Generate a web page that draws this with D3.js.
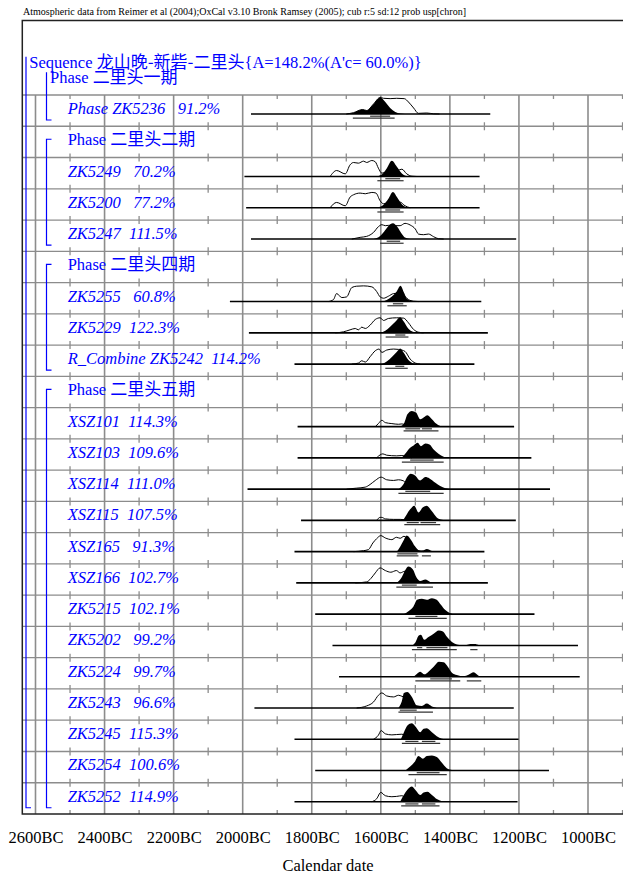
<!DOCTYPE html>
<html>
<head>
<meta charset="utf-8">
<script src="https://cdnjs.cloudflare.com/ajax/libs/d3/7.8.5/d3.min.js"></script>
<style>
  body { margin: 0; background: #fff; }
  svg { display: block; }
  text { font-family: 'Liberation Serif', 'Times New Roman', serif; }
</style>
</head>
<body>
<script>
const HEADER = 'Atmospheric data from Reimer et al (2004);OxCal v3.10 Bronk Ramsey (2005); cub r:5 sd:12 prob usp[chron]'
const SEQUENCE_LABEL = 'Sequence 龙山晚-新砦-二里头{A=148.2%(A\'c= 60.0%)}'
const FIRST_PHASE_LABEL = 'Phase 二里头一期'
const TICK_YEARS = [2600, 2400, 2200, 2000, 1800, 1600, 1400, 1200, 1000, 800]
const MINOR_YEARS = [2500, 2300, 2100, 1900, 1700, 1500, 1300, 1100, 900]
const X_LABEL = 'Calendar date'

// one entry per grid row (years BC); phase rows have no distribution
const names = ['Phase ZK5236', 'Phase 二里头二期', 'ZK5249', 'ZK5200', 'ZK5247', 'Phase 二里头四期',
  'ZK5255', 'ZK5229', 'R_Combine ZK5242', 'Phase 二里头五期', 'XSZ101', 'XSZ103', 'XSZ114',
  'XSZ115', 'XSZ165', 'XSZ166', 'ZK5215', 'ZK5202', 'ZK5224', 'ZK5243', 'ZK5245', 'ZK5254', 'ZK5252']
const agreement = [91.2, null, 70.2, 77.2, 111.5, null, 60.8, 122.3, 114.2, null, 114.3, 109.6, 111.0,
  107.5, 91.3, 102.7, 102.1, 99.2, 99.7, 96.6, 115.3, 100.6, 114.9]

// [first row, last row] of each phase bracket
const phaseGroups = [[1, 4], [5, 8], [9, 22]]

const spans = [
  [1976, 1283], null, [1995, 1314], [1990, 1314], [1976, 1208], null,
  [2037, 1309], [1982, 1290], [1850, 1329], null, [1841, 1214], [1841, 1164], [1986, 1110],
  [1831, 1209], [1850, 1300], [1845, 1290], [1790, 1155], [1740, 1029], [1721, 1024],
  [1966, 1215], [1850, 1201], [1790, 1113], [1850, 1204]
]

// unmodelled (outline) distributions: [year BC, relative probability]
const priors = [
  [[1700,0],[1679,8],[1653,27],[1641,21],[1621,60],[1602,99],[1592,94],[1573,92],[1554,94],[1532,92],[1520,72],[1505,36],[1491,4],[1467,6],[1447,1],[1430,0]],
  null,
  [[1747,0],[1728,36],[1703,16],[1689,70],[1679,84],[1665,80],[1650,92],[1641,84],[1626,96],[1616,88],[1607,50],[1597,20],[1583,30],[1568,36],[1554,36],[1539,44],[1525,16],[1510,2],[1495,0]],
  [[1747,0],[1728,32],[1703,12],[1689,64],[1679,78],[1660,88],[1645,84],[1626,92],[1614,88],[1602,42],[1592,24],[1578,30],[1560,34],[1544,34],[1530,12],[1515,0]],
  [[1684,0],[1660,10],[1641,16],[1621,40],[1607,74],[1597,86],[1587,80],[1578,82],[1565,80],[1544,80],[1530,94],[1515,84],[1500,60],[1491,30],[1476,26],[1462,30],[1447,14],[1433,2],[1418,0]],
  null,
  [[1752,0],[1737,12],[1728,48],[1713,24],[1699,28],[1684,84],[1670,92],[1650,94],[1626,88],[1612,60],[1602,28],[1592,20],[1578,32],[1563,48],[1550,50],[1535,40],[1520,12],[1505,2],[1490,0]],
  [[1732,0],[1708,6],[1689,18],[1674,26],[1665,18],[1655,34],[1645,26],[1631,46],[1616,80],[1602,90],[1592,74],[1578,86],[1554,90],[1534,88],[1520,60],[1505,20],[1491,4],[1476,0]],
  [[1684,0],[1665,6],[1655,20],[1645,12],[1631,44],[1616,80],[1605,90],[1597,70],[1583,84],[1563,90],[1549,88],[1530,76],[1515,30],[1500,6],[1486,0]],
  null,
  [[1616,0],[1607,18],[1597,38],[1587,24],[1568,18],[1549,14],[1539,16],[1525,8],[1515,0]],
  [[1612,0],[1602,18],[1594,24],[1583,16],[1554,12],[1539,14],[1525,8],[1510,0]],
  [[1699,0],[1670,6],[1645,12],[1631,28],[1616,52],[1599,72],[1583,56],[1563,52],[1549,56],[1535,50],[1520,20],[1505,0]],
  [[1612,0],[1602,18],[1597,18],[1587,9],[1563,6],[1544,6],[1530,4],[1515,0]],
  [[1679,0],[1650,6],[1636,12],[1623,52],[1612,78],[1600,96],[1587,82],[1568,72],[1555,86],[1544,80],[1533,92],[1520,70],[1505,30],[1490,6],[1475,0]],
  [[1674,0],[1641,6],[1629,26],[1616,60],[1602,90],[1587,74],[1571,64],[1555,74],[1544,60],[1530,70],[1515,50],[1500,20],[1485,4],[1470,0]],
  null, null, null,
  [[1670,0],[1641,12],[1621,36],[1607,76],[1597,90],[1583,72],[1563,66],[1549,76],[1539,70],[1528,60],[1515,30],[1500,10],[1485,0]],
  [[1621,0],[1607,24],[1599,52],[1587,32],[1568,26],[1554,28],[1539,30],[1525,15],[1510,0]],
  null,
  [[1626,0],[1612,18],[1600,56],[1587,36],[1568,30],[1554,32],[1539,36],[1525,18],[1510,0]]
]

// modelled (filled) distributions
const posteriors = [
  [[1699,0],[1679,8],[1653,27],[1641,22],[1621,60],[1602,99],[1587,72],[1573,36],[1558,12],[1544,3],[1530,0]],
  null,
  [[1616,0],[1597,12],[1583,48],[1568,94],[1554,60],[1539,18],[1525,3],[1505,0]],
  [[1612,0],[1592,18],[1578,54],[1565,94],[1552,60],[1539,21],[1525,3],[1510,0]],
  [[1621,0],[1602,18],[1587,54],[1578,78],[1565,94],[1552,72],[1539,30],[1530,9],[1515,0]],
  null,
  [[1597,0],[1583,9],[1568,30],[1554,60],[1543,94],[1533,54],[1525,18],[1515,6],[1495,1],[1470,0]],
  [[1602,0],[1587,12],[1573,36],[1558,66],[1544,94],[1533,66],[1520,24],[1507,6],[1491,0]],
  [[1597,0],[1583,15],[1568,42],[1554,72],[1544,94],[1533,66],[1520,24],[1505,3],[1491,0]],
  null,
  [[1544,0],[1533,18],[1523,74],[1510,94],[1498,84],[1486,44],[1474,58],[1465,68],[1452,44],[1440,18],[1428,4],[1413,0]],
  [[1539,0],[1527,30],[1515,60],[1505,74],[1493,90],[1484,70],[1471,86],[1459,80],[1447,50],[1433,24],[1418,6],[1404,0]],
  [[1549,0],[1534,30],[1525,68],[1513,92],[1501,82],[1486,52],[1471,72],[1459,64],[1442,38],[1428,18],[1413,6],[1399,0]],
  [[1536,0],[1525,36],[1515,66],[1503,88],[1491,48],[1478,78],[1467,88],[1452,54],[1438,18],[1423,4],[1409,0]],
  [[1554,0],[1544,30],[1533,72],[1525,96],[1513,72],[1501,32],[1488,6],[1476,8],[1467,16],[1452,4],[1438,0]],
  [[1554,0],[1539,36],[1529,78],[1520,98],[1507,80],[1497,34],[1486,12],[1471,20],[1457,6],[1442,0]],
  [[1534,0],[1520,18],[1505,48],[1495,86],[1481,92],[1467,86],[1452,96],[1438,86],[1426,56],[1414,26],[1399,6],[1385,0]],
  [[1510,0],[1500,18],[1490,60],[1484,64],[1474,34],[1462,50],[1447,70],[1432,90],[1420,84],[1408,50],[1394,20],[1380,6],[1366,2],[1352,2],[1341,8],[1329,8],[1315,0]],
  [[1505,0],[1495,18],[1486,30],[1474,14],[1462,30],[1447,60],[1432,90],[1418,86],[1406,60],[1394,24],[1380,10],[1360,3],[1346,12],[1331,26],[1317,6],[1305,0]],
  [[1549,0],[1539,42],[1533,90],[1523,96],[1510,66],[1496,16],[1481,12],[1467,26],[1452,9],[1438,0]],
  [[1542,0],[1533,42],[1523,82],[1510,96],[1498,72],[1486,42],[1476,62],[1467,66],[1452,42],[1438,18],[1423,3],[1413,0]],
  [[1529,0],[1515,24],[1501,54],[1491,86],[1478,70],[1467,86],[1452,90],[1438,80],[1423,46],[1409,14],[1394,3],[1385,0]],
  [[1544,0],[1533,42],[1523,72],[1510,92],[1498,66],[1486,40],[1476,56],[1465,60],[1452,40],[1438,16],[1423,3],[1409,0]]
]

// 68.2% and 95.4% ranges
const ranges68 = [
  [[1631,1573]], null, [[1587,1544]], [[1587,1544]], [[1583,1544]], null,
  [[1565,1535]], [[1558,1529]], [[1558,1532]], null, [[1529,1486],[1481,1452]], [[1515,1447]], [[1529,1457]],
  [[1525,1490],[1485,1440]], [[1552,1494]], [[1539,1496]], [[1500,1436]], [[1495,1480],[1468,1407]], [[1457,1394]],
  [[1545,1496]], [[1529,1491],[1481,1442]], [[1496,1430]], [[1529,1491],[1481,1442]]
]
const ranges95 = [
  [[1681,1560]], null, [[1610,1534]], [[1610,1534]], [[1602,1534]], null,
  [[1581,1525]], [[1586,1520]], [[1587,1522]], null, [[1534,1433]], [[1539,1418]], [[1549,1418]],
  [[1532,1428]], [[1554,1491],[1481,1455]], [[1555,1449]], [[1520,1409]], [[1510,1380],[1341,1320]], [[1500,1370],[1351,1309]],
  [[1549,1449]], [[1539,1428]], [[1520,1409]], [[1541,1430]]
]

const SVG_WIDTH = 623
const SVG_HEIGHT = 875
const FRAME = { LEFT: 22.3, TOP: 20.5, BOTTOM: 814 }
const GRID_TOP = 95
const BASE_OFFSET = 19
const LABEL_X = 67.7
const LABEL_SIZE = 16.5
const CJK_SIZE = 17
const BLUE = '#0000ff'
const GRID = '#8c8c8c'

const svg = d3.select('body')
  .append('svg')
  .attr('width', SVG_WIDTH)
  .attr('height', SVG_HEIGHT)

const x = d3.scaleLinear().domain([2600, 1000]).range([35.5, 588])
const rowY = d3.scaleLinear().domain([0, names.length]).range([GRID_TOP, FRAME.BOTTOM])
const p = d3.scaleLinear().domain([0, 100]).range([0, 16.7])

// split text into latin / CJK runs so each gets its own font
function addRuns(textSel, str, size) {
  str.split(/([\u4e00-\u9fff]+(?:-[\u4e00-\u9fff]+)*)/).filter(s => s.length).forEach(s => {
    const cjk = /[\u4e00-\u9fff]/.test(s)
    textSel.append('tspan')
      .text(s)
      .attr('font-family', cjk ? "'Noto Sans CJK SC', sans-serif" : null)
      .attr('font-size', cjk ? CJK_SIZE : size)
      .attr('font-style', cjk ? 'normal' : null)
  })
}

// header
svg.append('text')
  .text(HEADER)
  .attr('x', 23)
  .attr('y', 14.5)
  .attr('font-size', 9.5)
  .attr('textLength', 443)
  .attr('lengthAdjust', 'spacingAndGlyphs')

// grid
const grid = svg.append('g')
grid.selectAll('line.h')
  .data(d3.range(names.length))
  .enter()
  .append('line')
    .attr('x1', FRAME.LEFT).attr('x2', SVG_WIDTH)
    .attr('y1', i => rowY(i)).attr('y2', i => rowY(i))
    .attr('stroke', GRID).attr('stroke-width', 1.3)
grid.selectAll('line.v')
  .data(TICK_YEARS)
  .enter()
  .append('line')
    .attr('x1', d => x(d)).attr('x2', d => x(d))
    .attr('y1', GRID_TOP).attr('y2', FRAME.BOTTOM)
    .attr('stroke', GRID).attr('stroke-width', 1.6)
d3.range(names.length + 1).forEach(i => {
  const y = rowY(i)
  grid.append('g').selectAll('line')
    .data(MINOR_YEARS)
    .enter()
    .append('line')
      .attr('x1', d => x(d)).attr('x2', d => x(d))
      .attr('y1', Math.max(GRID_TOP, y - 4)).attr('y2', Math.min(FRAME.BOTTOM, y + 4))
      .attr('stroke', GRID).attr('stroke-width', 1.3)
})

// frame
svg.append('path')
  .attr('d', `M${SVG_WIDTH},${FRAME.TOP}H${FRAME.LEFT}V${FRAME.BOTTOM}H${SVG_WIDTH}`)
  .attr('fill', 'none')
  .attr('stroke', '#222')
  .attr('stroke-width', 1.5)

// distributions
const dists = svg.append('g')
names.forEach((name, i) => {
  if (!spans[i]) return
  const base = rowY(i) + BASE_OFFSET
  const g = dists.append('g')
  g.append('line')
    .attr('x1', x(spans[i][0])).attr('x2', x(spans[i][1]))
    .attr('y1', base).attr('y2', base)
    .attr('stroke', '#000').attr('stroke-width', 1.6)
  if (priors[i]) {
    g.append('path')
      .attr('d', d3.line().x(d => x(d[0])).y(d => base - p(d[1])).curve(d3.curveMonotoneX)(priors[i]))
      .attr('fill', 'none').attr('stroke', '#000').attr('stroke-width', 1)
  }
  g.append('path')
    .attr('d', d3.area().x(d => x(d[0])).y0(base).y1(d => base - p(d[1])).curve(d3.curveMonotoneX)(posteriors[i]))
    .attr('fill', '#000')
  g.selectAll('line.r68')
    .data(ranges68[i])
    .enter()
    .append('line')
      .attr('x1', d => x(d[0])).attr('x2', d => x(d[1]))
      .attr('y1', base + 2.2).attr('y2', base + 2.2)
      .attr('stroke', '#333').attr('stroke-width', 1.2)
  g.selectAll('line.r95')
    .data(ranges95[i])
    .enter()
    .append('line')
      .attr('x1', d => x(d[0])).attr('x2', d => x(d[1]))
      .attr('y1', base + 4.2).attr('y2', base + 4.2)
      .attr('stroke', '#333').attr('stroke-width', 1.2)
})

// brackets
const brackets = svg.append('g')
  .attr('fill', 'none')
  .attr('stroke', BLUE)
  .attr('stroke-width', 1.2)
function bracket(bx, top, bottom, topTick = true) {
  brackets.append('path').attr('d', `M${bx + (topTick ? 5 : 0)},${top}H${bx}V${bottom}H${bx + 5}`)
}
bracket(26, 56.7, rowY(names.length - 1) + 25, false)
bracket(46.5, 72.3, rowY(0) + 25, false)
phaseGroups.forEach(([a, b]) => bracket(46.5, rowY(a) + 13, rowY(b) + 25))

// labels
const labels = svg.append('g').attr('fill', BLUE)
addRuns(labels.append('text').attr('x', 29.3).attr('y', 68.3), SEQUENCE_LABEL, LABEL_SIZE)
addRuns(labels.append('text').attr('x', 50).attr('y', 83.3), FIRST_PHASE_LABEL, LABEL_SIZE)
names.forEach((name, i) => {
  const a = agreement[i]
  const str = a === null ? name : `${name}  ${a < 100 ? ' ' : ''}${a.toFixed(1)}%`
  const t = labels.append('text')
    .attr('x', LABEL_X)
    .attr('y', rowY(i) + BASE_OFFSET)
    .attr('font-style', a === null ? 'normal' : 'italic')
    .style('white-space', 'pre')
  addRuns(t, str, LABEL_SIZE)
})

// axis
const xAxis = d3.axisBottom(x)
  .tickValues(TICK_YEARS.filter(d => d >= 1000))
  .tickFormat(d => `${d}BC`)
  .tickSize(0)
  .tickPadding(17)
const axisG = svg.append('g')
  .attr('transform', `translate(0, ${FRAME.BOTTOM})`)
  .call(xAxis)
axisG.select('.domain').remove()
axisG.selectAll('text')
  .attr('font-family', "'Liberation Serif', 'Times New Roman', serif")
  .attr('font-size', 16.5)
  .attr('fill', '#000')

svg.append('text')
  .text(X_LABEL)
  .attr('x', 328)
  .attr('y', 870.5)
  .attr('text-anchor', 'middle')
  .attr('font-size', 16.5)
</script>
</body>
</html>
